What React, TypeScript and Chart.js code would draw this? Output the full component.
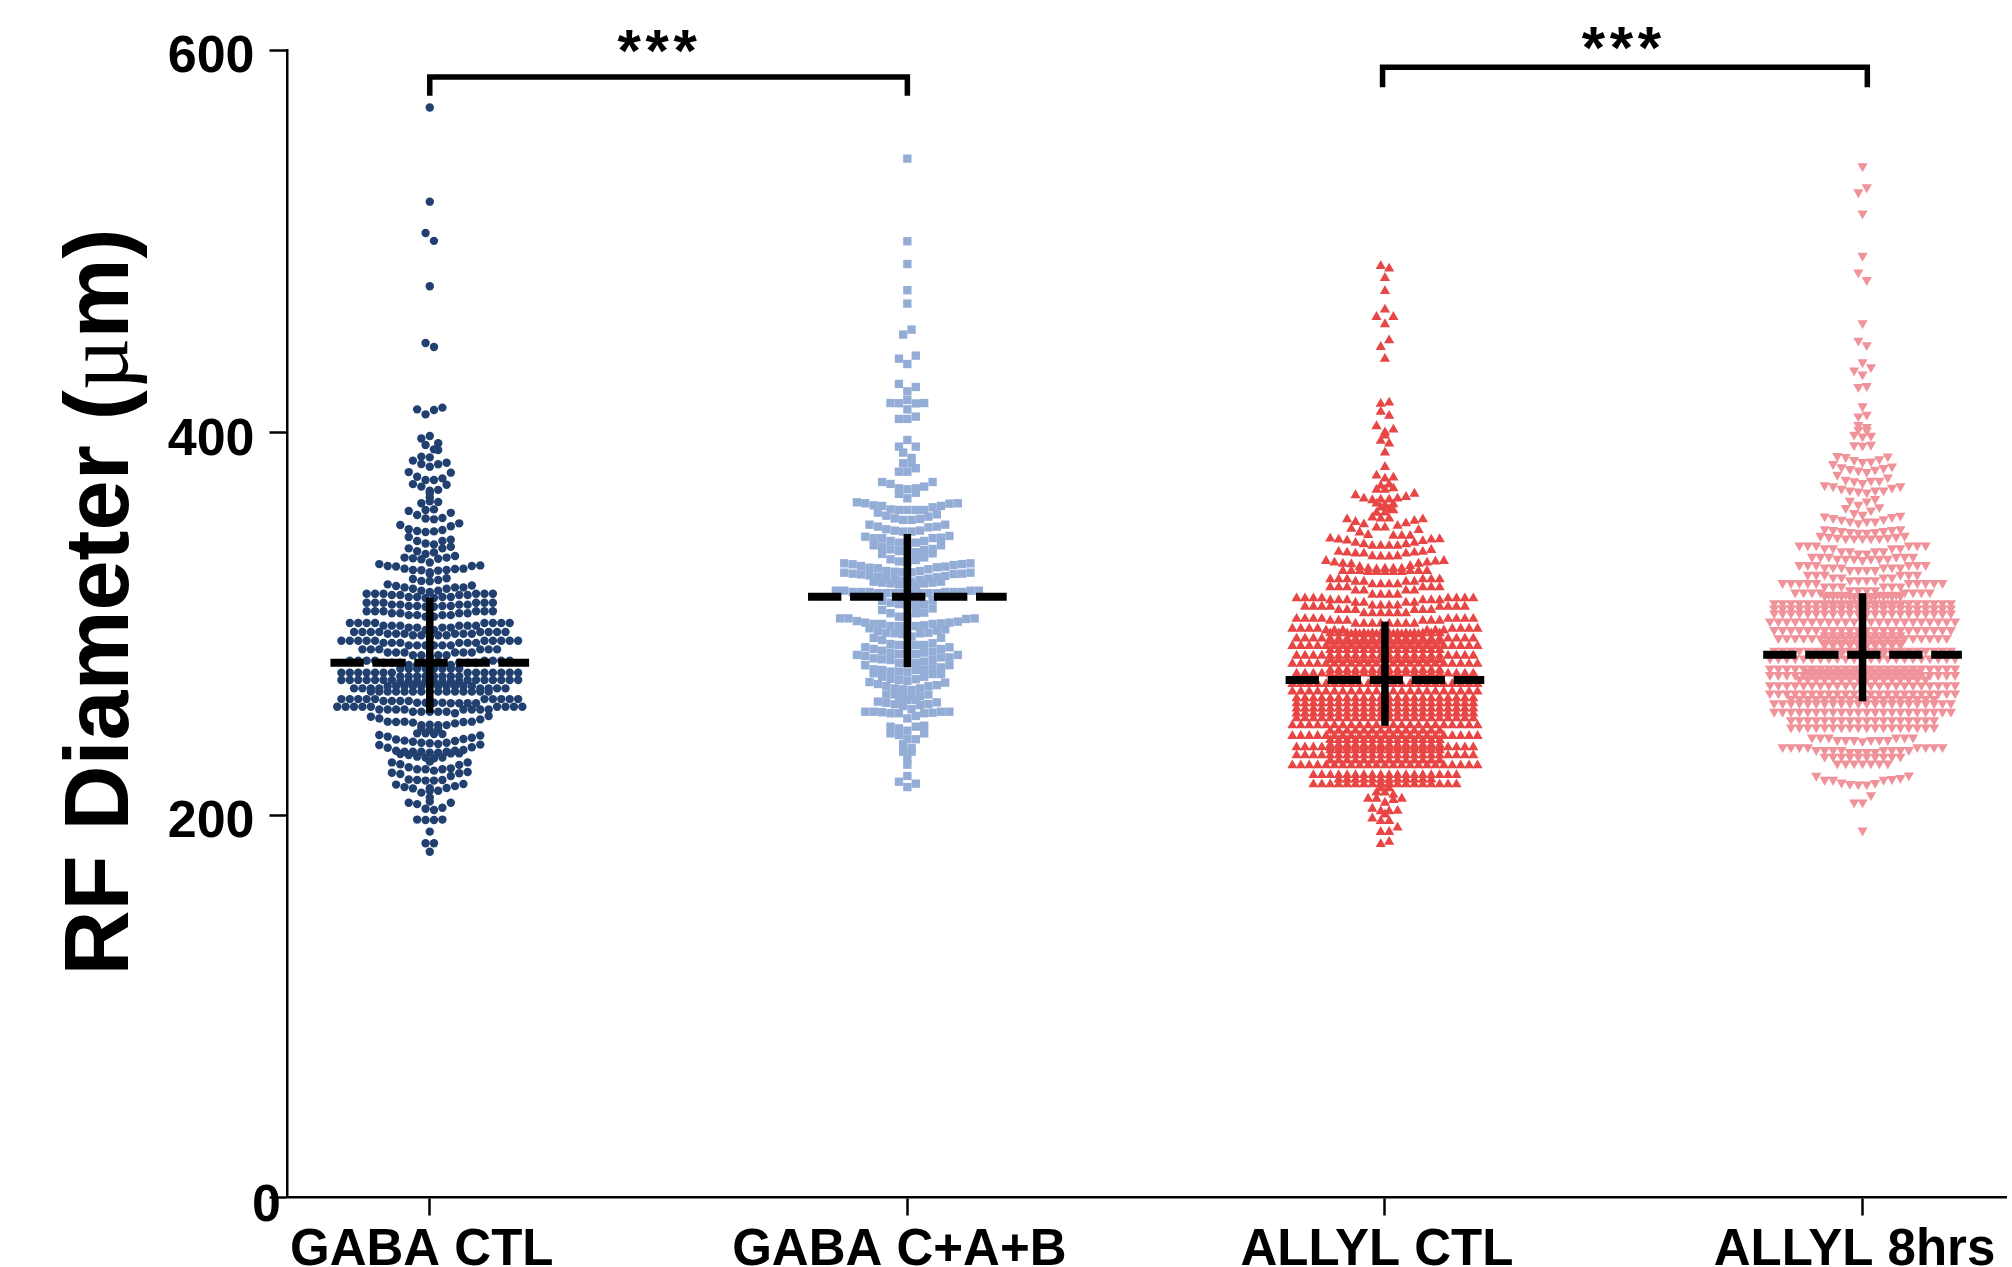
import React, { useEffect, useRef } from "react";
import { Chart, registerables } from "chart.js";

Chart.register(...registerables);

const categories = ["GABA CTL", "GABA C+A+B", "ALLYL CTL", "ALLYL 8hrs"];
const yTicks = [0, 200, 400, 600];
const yTitle = ["RF Diameter (", "\u00B5", "m)"];
const stars = "***";

type Cell = number | [number, number];

// Each row lists a swarm row left to right; [value, n] is n points at that value.
const gabaCtlRows: Cell[][] = [
  [569.9], [520.7], [504.3, 500.2], [476.5], [446.8, 444.7],
  [412.1, 409.5, 411.8, 413], [396.9, 398.2, 394.4], [393.5, 391.2],
  [387.4, 387, 390.8], [385.3, 383.5, 382.1, 383.4, 384.2],
  [379.3, 376.9, 375.2, 375.2, 376, 379],
  [373, 371.7, 369.6, 370, 372.7], [368.2], [366],
  [363, 364, 363.7], [359.5, 359.8],
  [359, 356.9, 355, 354.6, 355.3, 358],
  [351.6, 349.4, 348.5, 348, 348.3, 349, 351, 352.5],
  [345.4, 343.3, 342, 341.5, 343.3, 344],
  [339.4, 337.9, 336.5, 337.3, 339.4, 340.3],
  [334.6, 334.2, 333.7, 332, 334, 334.6, 335.4],
  [331.2, 330.2, 329.9, 328.8, 328.1, 328, 326.9, 327.8, 328.1, 328.6, 328.8, 330.2, 330.5],
  [326],
  [323.4, 322.4, 322.2, 322.9, 323.8],
  [320.6, 319.7, 319, 318.3, 317.3, 316.6, 317.3, 318.3, 319, 319, 320],
  [[315.7, 3], [315, 2], [314, 2], [313.5, 2], [314, 2], [315, 2], [315.7, 3]],
  [[311, 3], [310, 2], [309.3, 2], [308.9, 2], [309.3, 2], [310, 2], [311, 3]],
  [[306.5, 3], [305.5, 2], [304.5, 2], [303.7, 2], [304.5, 2], [305.5, 2], [306.5, 3]],
  [[300.4, 4], [299, 3], [298, 2], [296.7, 2], [298, 2], [299, 3], [300.4, 4]],
  [[295.7, 4], [294.8, 3], [294, 2], [293.2, 1], [294, 2], [294.8, 3], [295.7, 4]],
  [[291.1, 5], [290, 3], [288.7, 3], [288.7, 3], [290, 3], [291.1, 5]],
  [[286.6, 3], [285, 3], [283.5, 2], [282.8, 1], [283.5, 2], [285, 3], [286.6, 3]],
  [[280.7, 4], [279.6, 3], [278.4, 6], [279.6, 3], [280.7, 4]],
  [[274.4, 7], [276.5, 8], [274.4, 7]],
  [[272.5, 8]],
  [[270.6, 7], [269.8, 8], [270.6, 7]],
  [[266.2, 4], [267.3, 11], [266.2, 4]],
  [[264.5, 15]],
  [[260.6, 5], [259.6, 4], [258.7, 4], [258.4, 4], [260.6, 5]],
  [[256.6, 5], [255.2, 4], [254, 5], [253.2, 1], [255.2, 4], [256.6, 4]],
  [251.4, 250.5, 248.8, 248.6, 248.8, 248.3, 247, 247.2, 247, 247, 247.9, 248.6, 248.8, 250, 251.7],
  [245.5, 244.5, 245],
  [242.7, 242.7, 242.3, 242.3],
  [241.8, 241, 239.5, 238.9, 238.3, 237.8, 237.5, 237.1, 237.8, 238.7, 239.7, 240.4, 241.6],
  [236.6, 235.2, 233.6, 233.1, 233.1, 233.1, 232.6, 232.6, 233.1, 233.6, 234, 235.4, 236.8],
  [231.9, 231.4, 230.5, 230, 229.6, 230.1, 232.2, 232.2],
  [227.9],
  [227.5, 226.5, 225, 223.9, 223.9, 223.2, 223.9, 224.4, 226.2, 227.5],
  [222.1, 221.4, 218.6, 218.3, 218, 218, 218.3, 220.4, 221.8, 222.5],
  [215.9, 214.6, 213.9, 211.7, 212.7, 212.7, 214.1, 215.1, 216.2],
  [214], [209.2],
  [207],
  [206.4, 205.7, 203.3, 202.6, 203.8, 206.4],
  [197.6, 197.4, 197.4, 197.6], [191.3], [185.2, 185.2], [180.8],
];

const gabaCabRows: Cell[][] = [
  [543.2], [500], [488.1], [474.4], [467.4], [451.2, 453.8],
  [438.6, 435.8, 440.2], [425.4, 421.5, 423.8],
  [415.4, 415.3, 417, 415.2, 415.4], [412.1],
  [407.1, 407.1, 408.3], [392.6, 396.1, 392.6],
  [389.5, 386.7], [383.9, 383.9], [379.5, 379.5, 381.3],
  [374.1, 373.1, 370.8, 370.3, 370.8, 371.7, 374.1],
  [367.9, 365.6, 368.5],
  [363.5, 363, 361.9, 361.6, 359.8, 359.5, 359.5, 359.5, 359.5, 360.9, 361.6, 362.8, 363],
  [358.1, 356.5, 355.1, 354.3, 354.3, 354.8, 356, 357.2],
  [351.8, 350.8, 349.4, 348.7, 348.2, 348.2, 348.7, 350.4, 350.8, 351.8],
  [345.5, 344.7, 344.7, 343.3, 342.4, 342, 342.4, 343.3, 344.8, 345, 345.9],
  [341, 340.3, 338.9, 338, 338, 337.4, 338.6, 339.1, 341],
  [336.5, 333.7, 332.6, 332.6, 333.3, 334.7, 336.8],
  [331.6, 331.1, 330.2, 329.3, 329, 327.6, 327.2, 326.9, 326.9, 327.6, 328.5, 329.5, 329.9, 330.7, 331.2, 331.6],
  [326.7, 326.2, 325.8, 325.3, 324.6, 323.7, 322.9, 322.5, 322, 322.9, 323.6, 324.3, 325, 326, 326.2, 326.7],
  [322, 321.5, 321.1, 320.6, 320.3, 319.7, 321.1, 321.5, 322],
  [[317.3, 2], [316.6, 3], [316, 8], [316.6, 3], [317.3, 2]],
  [312, 311, 310.3, 310, 309.8, 310.1, 312.4],
  [307.2, 305.5, 303.7, 303.5, 305.5, 305.8, 308],
  [302.8, 302.8, 301.4, 300.6, 299.9, 299.9, 298.8, 298.8, 298.5, 298.8, 299.2, 299.9, 300.2, 300.6, 301.1, 302.5, 302.8],
  [297.6, 296.2, 295.3, 295, 294.6, 293.3, 295, 295.3, 296.4, 297.1],
  [292.6, 291.5, 289.4, 288.9, 288.5, 288.9, 288.9, 289.8, 292.7],
  [287.7, 286.8, 285.9, 284.9, 284.2, 284.2, 284.2, 284.9, 285.4, 286.8, 287.7],
  [283.7, 283.1, 281.9, 281.4, 281, 279.6, 279.4, 279.6, 280.2, 281, 282.4, 282.4, 283.7],
  [278.3, 276.2, 275.8, 275, 275, 274.6, 275.8, 275.8, 276.7, 277.2, 278.3],
  [274.1, 272.3, 271.2, 270.6, 270.2, 271, 272.3, 273.7, 273.7],
  [269.5, 268.5, 267.4, 266.2, 265.7, 265.4, 266.2, 267.4, 267.9, 269.2],
  [263, 263, 262, 262, 262, 263],
  [260.4, 260.1, 260.1],
  [259.3, 258.7, 257.9, 257, 255.3, 257.5, 258, 258.9],
  [254, 254, 253.7, 253.2, 253.2, 250.5, 251.8, 253.2, 253.5, 254, 254],
  [246.2, 245.3, 244.1, 246.2, 246.7],
  [242.7, 241.8, 239.6, 239.6, 242.7],
  [237.1, 234.9], [233.1, 233.1], [229.6], [226.3], [220.4],
  [217.4, 214.6, 216.4],
];

const allylCtlRows: Cell[][] = [
  [487, 485.7], [480.8], [473.9], [460.4, 464.3, 460.4], [456.6],
  [444.7, 448.2], [438.5], [415, 415.6], [410.8, 408.7],
  [403.3, 400.1, 401.5], [398.4], [395.6, 394.2], [389.5], [382],
  [377.5, 375.9, 376.4], [372.1, 372.8], [370.1, 370.1, 370.8],
  [367.2, 365.4, 364.6, 364.9, 364.9, 365.4, 366.3, 368],
  [362.8, 362, 362.5], [360.7, 359.9], [358, 358.1, 359.3],
  [354.6, 353.2, 352, 355.5, 355, 355, 351.2, 352.5, 353.8, 354.6],
  [349.6, 347.7, 346.4, 350.3, 350.3, 346, 346, 346, 349],
  [344.5, 344, 343.5, 342.3, 341.6, 340.7, 340.7, 340.7, 340.7, 341.6, 342.3, 343.2, 344, 344.2],
  [337.6, 337.2, 336.7, 336.7, 335.3, 335.1, 335.1, 335.3, 336.7, 337.2, 337.6, 338.6],
  [332.8, 332, 331.4, 331.1, 329.7, 328.8, 328.5, 328.8, 328.8, 328.8, 330.2, 331.4, 332, 332.5, 332.8],
  [[327.6, 3], [327, 5], [327.6, 3]],
  [[323.2, 3], [322, 2], [320.6, 4], [322, 2], [323.2, 3]],
  [[319, 3], [317.3, 2], [315.2, 4], [317.3, 2], [319, 3]],
  [[313.3, 4], [312.3, 3], [311, 2], [309.5, 4], [311, 2], [312.3, 3], [313.3, 4]],
  [[308.9, 4], [307.2, 3], [305.5, 6], [307.2, 3], [308.9, 4]],
  [[302.6, 4], [301.6, 3], [300, 8], [301.6, 3], [302.6, 4]],
  [[297.4, 4], [296.5, 3], [294.5, 9], [296.5, 3], [297.4, 4]],
  [[295, 14]],
  [[292.2, 22]],
  [[290.6, 14]],
  [[288.4, 23]],
  [[286.3, 14]],
  [[283.3, 22]],
  [[281, 14]],
  [[279, 23]],
  [[275.8, 14]],
  [[273.9, 22]],
  [[268.5, 23]],
  [[264.5, 23]],
  [[261, 22]],
  [[258.4, 22]],
  [[255.7, 22]],
  [[253.1, 22]],
  [[250.5, 22]],
  [[246.9, 23]],
  [[244, 14]],
  [[241.3, 23]],
  [[239.2, 14]],
  [[236.6, 14]],
  [[235.4, 22]],
  [[233.8, 14]],
  [[231.2, 22]],
  [[228.5, 14]],
  [[226, 23]],
  [[220.9, 18]],
  [[218.5, 12]],
  [[216, 18]],
  [216.5, 216.5],
  [213.9, 213.9],
  [211.7, 211.7, 210.5],
  [208.5, 208.5, 206.4, 207.8, 208.5],
  [203.3, 202, 202, 202.2],
  [200.3],
  [198.2, 196.8, 196.8, 193.4],
  [191.1, 191.1],
  [184.8, 186],
];

const allyl8hrsRows: Cell[][] = [
  [539.2], [525.6, 528.2], [514.6], [492.4], [483.7, 479.7], [457.2],
  [448, 445.7], [432.5, 436.7, 434.2], [430.4], [423.8, 424.3], [413.7],
  [408.4, 409.3], [403.9, 402.9], [401.5, 401.1],
  [398.9, 398, 398.3], [393.4, 393.1, 393.6],
  [387.7, 387.2, 385.6, 384.6, 384.9, 386.1, 387.5],
  [383.5, 381.9, 380.9, 380.1, 379.4, 380.6, 381.4, 382.3],
  [377.9, 375.3, 374.6, 373.6, 374.8, 374.8, 376.5],
  [372.4, 371.9, 370.6, 369.7, 369.2, 368.7, 369.7, 369.7, 371.2, 371.9],
  [364.3, 362.2, 364, 365.2],
  [360.5, 357.9, 357, 359.3, 361],
  [356.1, 355.3, 354.4, 353.5, 352.6, 353.5, 353.5, 354.7, 355.8, 356.5],
  [349.5, 349, 348.5, 348, 347.6, 347.6, 348, 348.5, 349, 349.5],
  [346, 345.5, 345, 344.6, 344.6, 344.6, 344.6, 344.6, 345, 345.5, 346],
  [[341, 3], [339.5, 2], [338, 2], [336.8, 2], [338, 2], [339.5, 2], [341, 3]],
  [[335, 3], [334, 3], [333.3, 1], [334, 3], [335, 3]],
  [[330.7, 3], [329.5, 3], [328.1, 4], [329.5, 3], [330.7, 3]],
  [[325.6, 3], [324.2, 2], [322.8, 4], [324.2, 2], [325.6, 3]],
  [[321.3, 5], [319.5, 3], [317.6, 4], [319.5, 3], [321.3, 5]],
  [[316.4, 4], [315.2, 3], [314.1, 3], [315.2, 3], [316.4, 4]],
  [[314.5, 10]],
  [[310.8, 22]],
  [[309.8, 10]],
  [[308, 22]],
  [[305.4, 22]],
  [[301.2, 23]],
  [[296.7, 22]],
  [[294, 10]],
  [[292.5, 21]],
  [[290, 10]],
  [[288.9, 10]],
  [[285.9, 22]],
  [[284.5, 12]],
  [[281.9, 23]],
  [[276.6, 23]],
  [[275, 14]],
  [[273.2, 23]],
  [[271, 16]],
  [[267.9, 23]],
  [[263.6, 23]],
  [[260.8, 18]],
  [[258.4, 22]],
  [[254, 22]],
  [[249.6, 18]],
  [[245.8, 18]],
  [[240.5, 3], [239.2, 3], [238.6, 1], [239.2, 3], [240.5, 3]],
  [[235.5, 4], [234, 4], [233, 4], [234, 4], [235.5, 4]],
  [[230.5, 10]],
  [[227, 7]],
  [220.5, 218.4, 218.4, 217, 216.3, 216, 216, 216.8, 218.4, 218.8, 219.4, 220.7],
  [206.6, 206.6, 210.4],
  [191.9],
];

const meanValues = [279.6, 314.1, 270.6, 283.8];
const upperValues = [313.6, 346.9, 301.1, 315.9];
const lowerValues = [253.3, 277.2, 246.7, 259.5];

// Significance brackets: left group, right group, foot value, bar value.
const bracket1 = [0.0, 1.0, 576.1, 585.9];
const bracket2 = [1.995, 3.01, 580.5, 591];

const colors = ["#21406F", "#93ADD6", "#E84545", "#F09299"];
const styles = ["circle", "rect", "triangle", "triangle"];
const radii = [4.2, 5.9, 5.9, 5.9];
const rotations = [0, 0, 0, 180];
const allRows = [gabaCtlRows, gabaCabRows, allylCtlRows, allyl8hrsRows];

const FONT = '"Liberation Sans", Arial, sans-serif';
const SLOT = 8.43 / 478.4;
const MEAN_HALF = 99.5 / 478.4;

function swarm(rows: Cell[][], centre: number) {
  return rows.flatMap((row) => {
    const vals = row.flatMap((c) => (Array.isArray(c) ? Array(c[1]).fill(c[0]) : [c]));
    return vals.map((y: number, i: number) => ({ x: centre + (i - (vals.length - 1) / 2) * SLOT, y }));
  });
}

const lineBase = {
  showLine: true,
  pointRadius: 0,
  borderColor: "#000",
  backgroundColor: "#000",
  borderCapStyle: "butt",
  borderJoinStyle: "miter",
  tension: 0,
  clip: false,
  order: 0,
};

const textPlugin = {
  id: "texts",
  afterDraw(chart: any) {
    const { ctx, scales } = chart;
    const { x, y } = scales;
    ctx.save();
    ctx.fillStyle = "#000";
    // the zero label sits apart from the other tick labels
    ctx.font = `bold 52px ${FONT}`;
    ctx.textAlign = "right";
    ctx.textBaseline = "middle";
    ctx.fillText("0", 281, y.getPixelForValue(0) + 9);
    // significance stars
    ctx.font = `bold 60px ${FONT}`;
    ctx.letterSpacing = "4.7px";
    ctx.textAlign = "center";
    ctx.textBaseline = "alphabetic";
    ctx.fillText(stars, x.getPixelForValue(0.481), 71);
    ctx.fillText(stars, x.getPixelForValue(2.5), 67.5);
    ctx.letterSpacing = "0px";
    // axis title
    ctx.translate(128, 975.5);
    ctx.rotate(-Math.PI / 2);
    ctx.textAlign = "left";
    let pos = 0;
    yTitle.forEach((part, i) => {
      ctx.font = i === 1 ? `90px "Liberation Serif", serif` : `bold 90px ${FONT}`;
      ctx.fillText(part, pos, 0);
      pos += ctx.measureText(part).width;
    });
    ctx.restore();
  },
};

export default function App() {
  const ref = useRef<HTMLCanvasElement>(null);

  useEffect(() => {
    if (!ref.current) return;
    const bracketData = (b: number[]) => [
      { x: b[0], y: b[2] },
      { x: b[0], y: b[3] },
      { x: b[1], y: b[3] },
      { x: b[1], y: b[2] },
    ];
    const datasets: any[] = [
      ...meanValues.map((m, i) => ({
        ...lineBase,
        data: [
          { x: i - MEAN_HALF, y: m },
          { x: i + MEAN_HALF, y: m },
        ],
        borderWidth: 8,
        borderDash: [33.3, 8.7],
      })),
      ...categories.map((_, i) => ({
        ...lineBase,
        data: [
          { x: i, y: lowerValues[i] },
          { x: i, y: upperValues[i] },
        ],
        borderWidth: 7.5,
      })),
      { ...lineBase, data: bracketData(bracket1), borderWidth: 5.5 },
      { ...lineBase, data: bracketData(bracket2), borderWidth: 5.5 },
      ...allRows.map((rows, i) => ({
        data: swarm(rows, i),
        pointStyle: styles[i],
        pointRadius: radii[i],
        pointRotation: rotations[i],
        pointBackgroundColor: colors[i],
        pointBorderWidth: 0,
        showLine: false,
        clip: false,
        order: 1,
      })),
    ];
    const chart = new Chart(ref.current, {
      type: "scatter",
      data: { datasets },
      plugins: [textPlugin],
      options: {
        animation: false,
        responsive: false,
        devicePixelRatio: 1,
        layout: { padding: { top: 50, right: 3, left: 0, bottom: 0 } },
        plugins: { legend: { display: false }, tooltip: { enabled: false }, title: { display: false } },
        scales: {
          x: {
            type: "linear",
            min: -0.2979,
            max: 3.3006,
            afterBuildTicks(scale: any) {
              scale.ticks = categories.map((_, i) => ({ value: i }));
            },
            afterFit(scale: any) {
              scale.height = 69.5;
              scale.paddingLeft = 0;
              scale.paddingRight = 0;
            },
            border: { display: true, color: "#000", width: 2.5 },
            grid: { display: true, drawOnChartArea: false, drawTicks: true, tickLength: 18, tickWidth: 2.5, tickColor: "#000" },
            ticks: {
              autoSkip: false,
              maxRotation: 0,
              minRotation: 0,
              padding: 5,
              labelOffset: -8,
              color: "#000",
              font: { family: FONT, size: 51, weight: "bold" },
              callback: (v: any) => categories[v as number],
            },
          },
          y: {
            type: "linear",
            min: yTicks[0],
            max: yTicks[3],
            afterBuildTicks(scale: any) {
              scale.ticks = yTicks.map((value) => ({ value }));
            },
            afterFit(scale: any) {
              scale.width = 287.5;
            },
            border: { display: true, color: "#000", width: 2.5 },
            grid: { display: true, drawOnChartArea: false, drawTicks: true, tickLength: 18, tickWidth: 2.5, tickColor: "#000" },
            ticks: {
              padding: 15,
              labelOffset: 8,
              color: "#000",
              font: { family: FONT, size: 52, weight: "bold" },
              callback: (v: any) => (v === 0 ? "" : String(v)),
            },
          },
        },
      } as any,
    });
    return () => chart.destroy();
  }, []);

  return (
    <canvas
      ref={ref}
      width={2012}
      height={1267}
      style={{ position: "absolute", left: 0, top: 0, width: 2012, height: 1267, display: "block" }}
    />
  );
}
